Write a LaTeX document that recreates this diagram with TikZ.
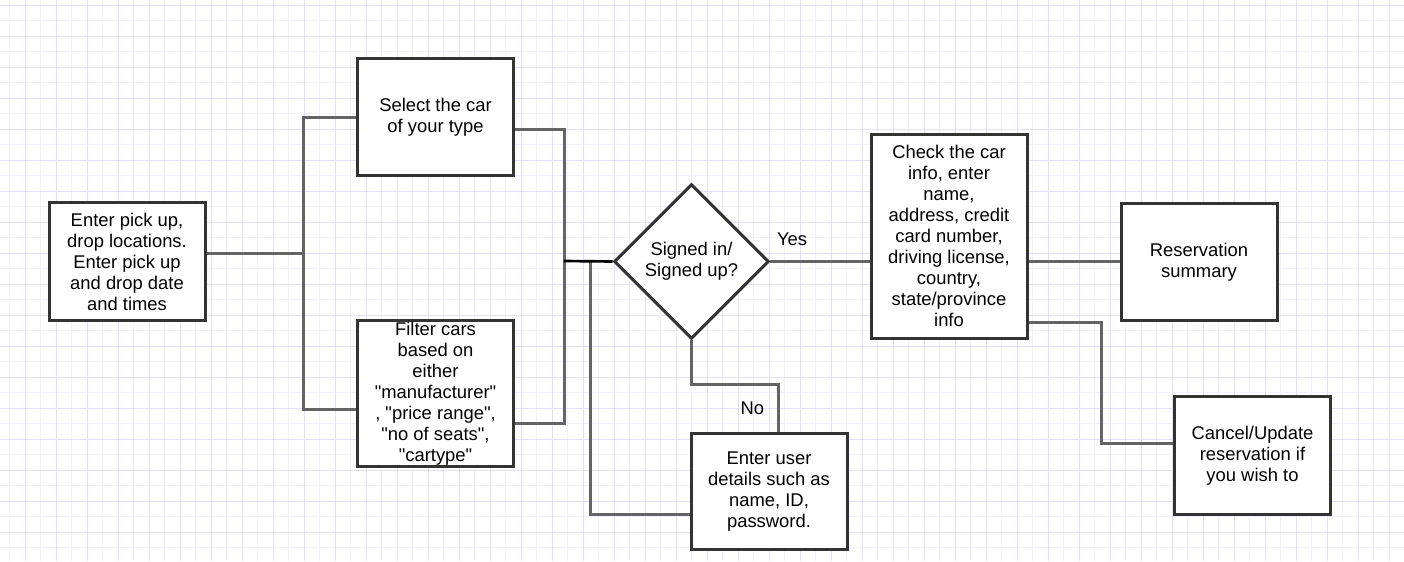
\documentclass[tikz,border=0pt]{standalone}
\usepackage{fontspec}
\setmainfont{Liberation Sans}
\usetikzlibrary{shapes.geometric,calc}

\definecolor{gridmajor}{RGB}{226,224,246}
\definecolor{gridminor}{RGB}{242,241,251}
\definecolor{boxline}{RGB}{51,51,51}
\definecolor{linkgray}{RGB}{100,100,100}

\begin{document}
\begin{tikzpicture}[x=0.75pt,y=-0.75pt,
	box/.style={draw=boxline, line width=2.25pt, fill=white, align=center, inner sep=0pt,
		minimum width=117pt, font=\fontsize{13.8}{15.75}\selectfont},
	decision/.style={diamond, draw=boxline, line width=2.25pt, fill=white, align=center, inner sep=0pt,
		minimum width=116pt, minimum height=116pt, font=\fontsize{13.8}{15.75}\selectfont},
	link/.style={draw=linkgray, line width=2.25pt},
	joinline/.style={draw=black, line width=2pt},
	answer/.style={font=\fontsize{13.8}{15.75}\selectfont}]

	\useasboundingbox (0,0) rectangle (1404,561);
	\fill[white] (0,0) rectangle (1404,561);
	\foreach \i in {0,...,44} \draw[gridminor, line width=0.75pt] (9.5+31*\i,0) -- +(0,561);
	\foreach \i in {0,...,18} \draw[gridminor, line width=0.75pt] (0,20.5+31*\i) -- +(1404,0);
	\foreach \i in {0,...,44} \draw[gridmajor, line width=0.75pt] (25+31*\i,0) -- +(0,561);
	\foreach \i in {0,...,17} \draw[gridmajor, line width=0.75pt] (0,5+31*\i) -- +(1404,0);

	\node[box, minimum height=88.5pt] (pickup) at (127,261.5) {Enter pick up,\\drop locations.\\Enter pick up\\and drop date\\and times};
	\node[box, minimum height=88pt] (select) at (435.5,117) {Select the car\\of your type};
	\node[box, minimum height=109pt] (filter) at (435.5,393.5) {Filter cars\\based on\\either\\\textquotedbl manufacturer\textquotedbl\\, \textquotedbl price range\textquotedbl,\\\textquotedbl no of seats\textquotedbl,\\\textquotedbl cartype\textquotedbl};
	\node[decision] (signed) at (691.5,261.5) {Signed in/\\Signed up?};
	\node[box, minimum height=153pt] (check) at (949,236) {Check the car\\info, enter\\name,\\address, credit\\card number,\\driving license,\\country,\\state/province\\info};
	\node[box, minimum height=88pt] (summary) at (1199,262) {Reservation\\summary};
	\node[box, minimum height=88.5pt] (cancel) at (1252.5,455.5) {Cancel/Update\\reservation if\\you wish to};
	\node[box, minimum height=87pt] (details) at (769,491.5) {Enter user\\details such as\\name, ID,\\password.};

	\coordinate (split) at (303,253);
	\coordinate (merge) at (564,261);
	\coordinate (loop) at (590,261);
	\coordinate (bend) at (1101,322);

	\draw[link] (pickup.east |- split) -- (split);
	\draw[link] (select.west) -| (split) |- ($(filter.west)+(0,15.5)$);
	\draw[link] ($(select.east)+(0,12)$) -| (merge) |- ($(filter.east)+(0,29.5)$);
	\draw[link] ($(details.west)+(0,22.5)$) -| (loop);
	\draw[joinline] (merge) -- (signed.west);

	\draw[link] (signed.east) -- node[answer, pos=0.22, yshift=17pt] (yes) {Yes} (check.west |- signed.east);
	\draw[link] (signed.south) |- ($(details.north)+(9,-48)$) -- node[answer, midway, left=6pt] (no) {No} ($(details.north)+(9,0)$);

	\draw[link] (check.east |- signed.east) -- (summary.west |- signed.east);
	\draw[link] (check.east |- bend) -- (bend) |- ($(cancel.west)+(0,-12.5)$);
\end{tikzpicture}
\end{document}
